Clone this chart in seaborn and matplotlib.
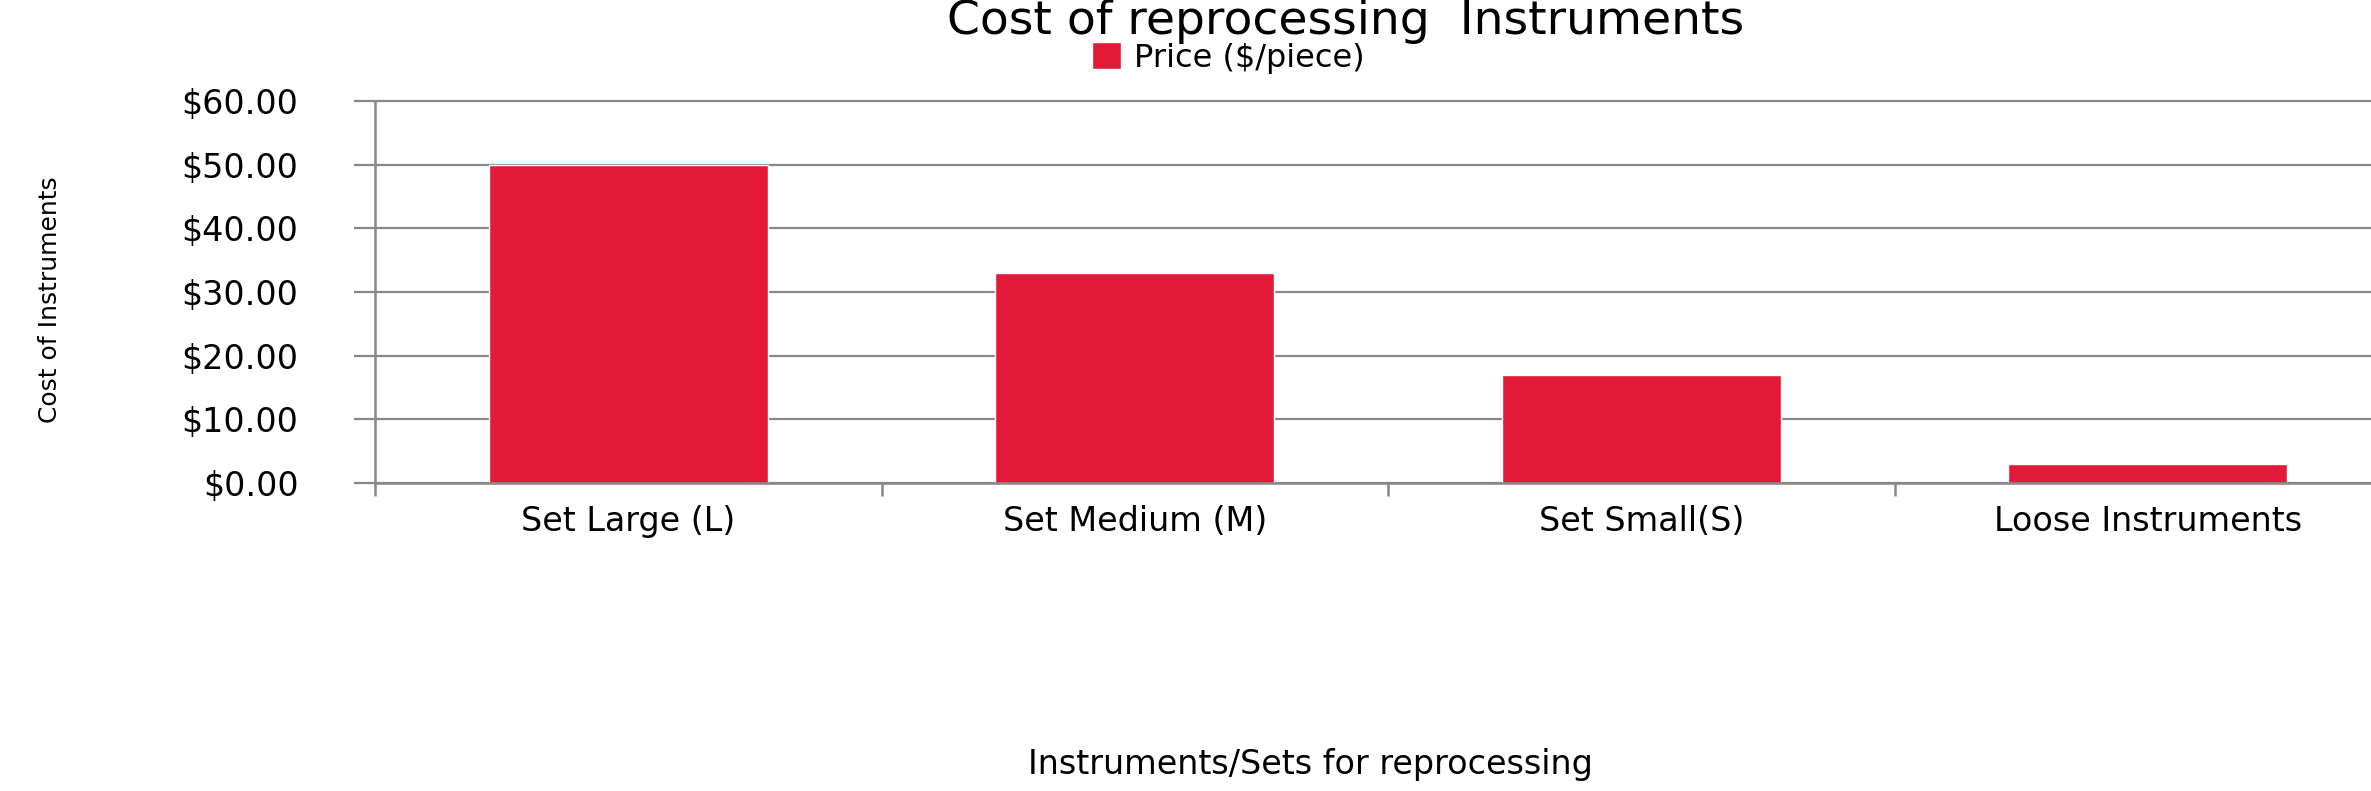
import pandas as pd
import seaborn as sns
import matplotlib.pyplot as plt
from matplotlib.ticker import StrMethodFormatter, FixedLocator

# Data
categories = ['Set Large (L)', 'Set Medium (M)', 'Set Small(S)', 'Loose Instruments']
prices = [50, 33, 17, 3]
y_ticks = [0, 10, 20, 30, 40, 50, 60]

df = pd.DataFrame({'Instrument': categories, 'Price': prices})

sns.set_style('white')
plt.rcParams['font.family'] = ['DejaVu Sans']
plt.rcParams['text.color'] = 'black'

grey = '#878787'
bar_red = '#E21A38'

fig = plt.figure(figsize=(23.71, 7.91), dpi=100)
# plot area runs off the right edge, like the original
ax = fig.add_axes([375 / 2371, 1 - 483 / 791, 2026 / 2371, 382 / 791])

sns.barplot(data=df, x='Instrument', y='Price', color=bar_red, width=0.55,
            saturation=1, label='Price ($/piece)', ax=ax)
handles, labels = ax.get_legend_handles_labels()
if ax.get_legend() is not None:
    ax.get_legend().remove()

ax.set_xlim(-0.5, 3.5)
ax.set_ylim(0, 60)
ax.set_yticks(y_ticks)
ax.yaxis.set_major_formatter(StrMethodFormatter('${x:.2f}'))
ax.grid(axis='y', color=grey, linewidth=1.6)
ax.set_axisbelow(True)
for line in ax.get_ygridlines():
    line.set_clip_on(False)

for side in ['top', 'right']:
    ax.spines[side].set_visible(False)
for side in ['left', 'bottom']:
    ax.spines[side].set_color(grey)
    ax.spines[side].set_linewidth(1.8)

# category boundaries get the tick marks
ax.xaxis.set_minor_locator(FixedLocator([-0.5, 0.5, 1.5, 2.5, 3.5]))
ax.tick_params(axis='x', which='minor', length=9, width=1.8, color=grey, direction='out', bottom=True)
ax.tick_params(axis='x', which='major', length=0, pad=16, labelsize=24, labelcolor='black')
ax.tick_params(axis='y', which='major', length=15, width=1.6, color=grey, direction='out',
               left=True, pad=40, labelsize=24, labelcolor='black')

ax.set_xlabel('')
ax.set_ylabel('')
fig.text(50 / 2371, 1 - 300 / 791, 'Cost of Instruments', rotation=90,
         ha='center', va='center', fontsize=18, color='black')
fig.text(1310 / 2371, 1 - 774 / 791, 'Instruments/Sets for reprocessing',
         ha='center', va='baseline', fontsize=24, color='black')
fig.text(1346 / 2371, 1 - 34 / 791, 'Cost of reprocessing  Instruments',
         ha='center', va='baseline', fontsize=34, color='black')

fig.legend(handles, labels, loc='center left', bbox_to_anchor=(1092 / 2371, 1 - 58 / 791),
           frameon=False, fontsize=23, handlelength=0.9, handleheight=0.9,
           handletextpad=0.4, borderpad=0, borderaxespad=0)

fig.savefig('out.png', dpi=100)
